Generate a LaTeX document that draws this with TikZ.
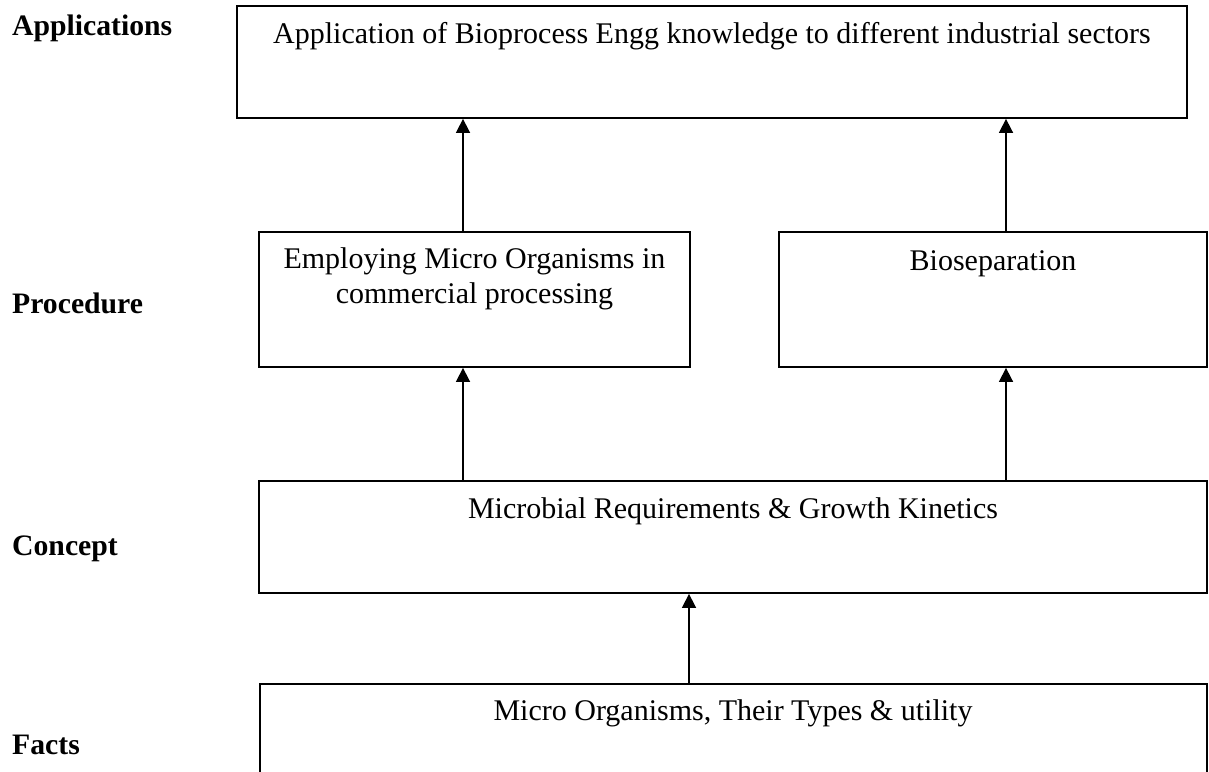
\documentclass[tikz,border=0pt]{standalone}
\usepackage{fontspec}
\setmainfont{Liberation Serif}
\usetikzlibrary{arrows.meta}
\begin{document}
\begin{tikzpicture}[x=1pt,y=-1pt,
  box/.style={draw=black,line width=1.8pt,rectangle,inner sep=0pt},
  txt/.style={anchor=base,inner sep=0pt,font=\fontsize{30}{35}\selectfont,align=center},
  lab/.style={anchor=base west,inner sep=0pt,font=\fontsize{29.7}{35}\selectfont\bfseries},
  arr/.style={line width=1.6pt,-{Triangle[length=14pt,width=14pt]}}]
\useasboundingbox (0,0) rectangle (1209,771);
\clip (0,0) rectangle (1209,771);
\fill[white] (0,0) rectangle (1209,771);
% boxes
\node[box,minimum width=950pt,minimum height=112pt] (top) at (712,62) {};
\node[box,minimum width=431pt,minimum height=135pt] (procL) at (474.5,299.5) {};
\node[box,minimum width=428pt,minimum height=135pt] (procR) at (993,299.5) {};
\node[box,minimum width=948pt,minimum height=112pt] (concept) at (733,537) {};
\node[box,minimum width=947pt,minimum height=140pt] (facts) at (733.5,754) {};
% texts
\node[txt] (ttop) at (712,43) {Application of Bioprocess Engg knowledge to different industrial sectors};
\node[txt] (tprocL) at (474.5,268) {Employing Micro Organisms in};
\node[txt] (tprocL2) at (474.5,303) {commercial processing};
\node[txt] (tprocR) at (993,270) {Bioseparation};
\node[txt] (tconcept) at (733,518) {Microbial Requirements \& Growth Kinetics};
\node[txt] (tfacts) at (733,720) {Micro Organisms, Their Types \& utility};
% side labels
\node[lab] (lapp) at (12,35) {Applications};
\node[lab] (lproc) at (12,313) {Procedure};
\node[lab] (lcon) at (12,555) {Concept};
\node[lab] (lfac) at (12,754) {Facts};
% connectors
\coordinate (xl) at (463,0);
\coordinate (xr) at (1006,0);
\coordinate (xm) at (689,0);
\draw[arr] (procL.north -| xl) -- (top.south -| xl);
\draw[arr] (procR.north -| xr) -- (top.south -| xr);
\draw[arr] (concept.north -| xl) -- (procL.south -| xl);
\draw[arr] (concept.north -| xr) -- (procR.south -| xr);
\draw[arr] (facts.north -| xm) -- (concept.south -| xm);
\end{tikzpicture}
\end{document}
